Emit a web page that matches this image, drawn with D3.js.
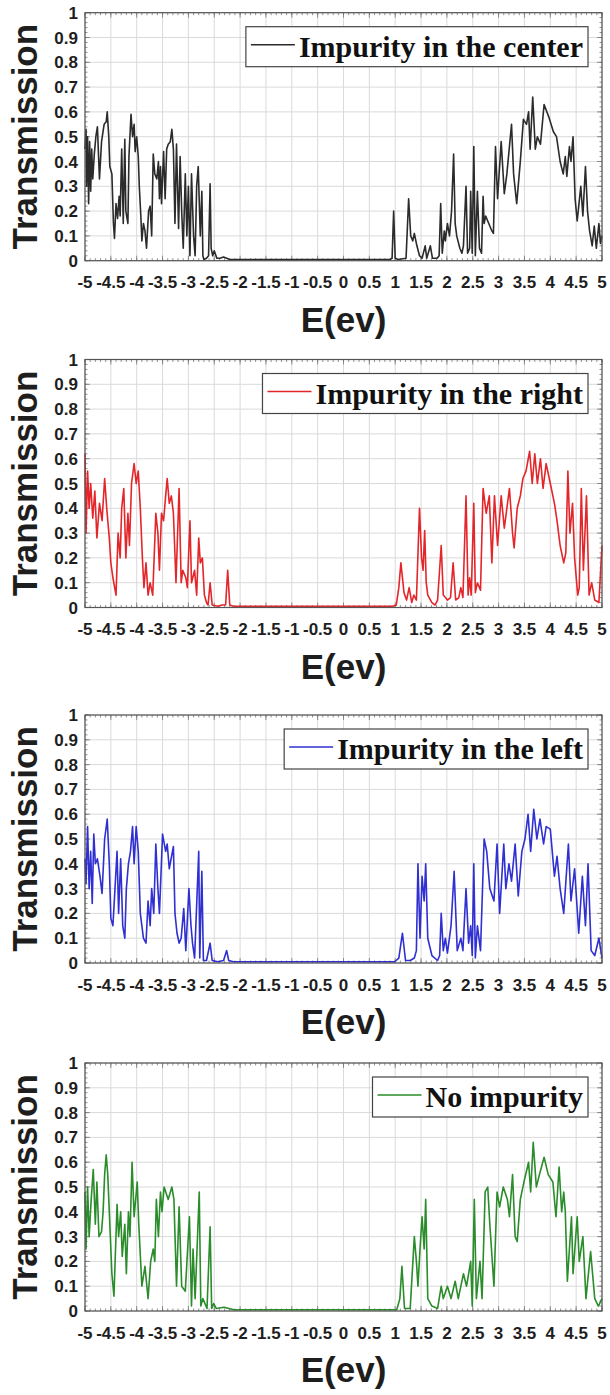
<!DOCTYPE html>
<html><head><meta charset="utf-8">
<script src="https://cdn.jsdelivr.net/npm/d3@7"></script>
<style>body{margin:0;background:#fff}svg{display:block}</style>
</head><body><svg id="c" width="610" height="1395"></svg>
<script>
// ---------- data ----------
const xTickValues = [-5,-4.5,-4,-3.5,-3,-2.5,-2,-1.5,-1,-0.5,0,0.5,1,1.5,2,2.5,3,3.5,4,4.5,5];
const xTickLabels = ["-5","-4.5","-4","-3.5","-3","-2.5","-2","-1.5","-1","-0.5","0","0.5","1","1.5","2","2.5","3","3.5","4","4.5","5"];
const yTickValues = [0,0.1,0.2,0.3,0.4,0.5,0.6,0.7,0.8,0.9,1];
const yTickLabels = ["0","0.1","0.2","0.3","0.4","0.5","0.6","0.7","0.8","0.9","1"];
const legendLabels = ["Impurity in the center","Impurity in the right","Impurity in the left","No impurity"];
const yAxisTitle = "Transmission";
const xAxisTitle = "E(ev)";

const energyCenter = [-5.00,-4.98,-4.97,-4.95,-4.93,-4.91,-4.89,-4.87,-4.85,-4.82,-4.79,-4.76,-4.72,-4.68,-4.63,-4.59,-4.57,-4.54,-4.52,-4.48,-4.45,-4.43,-4.40,-4.37,-4.34,-4.32,-4.29,-4.26,-4.23,-4.21,-4.17,-4.15,-4.11,-4.08,-4.05,-4.03,-4.00,-3.97,-3.95,-3.92,-3.90,-3.87,-3.84,-3.81,-3.77,-3.74,-3.71,-3.68,-3.65,-3.61,-3.58,-3.56,-3.54,-3.52,-3.48,-3.45,-3.42,-3.39,-3.35,-3.32,-3.29,-3.26,-3.23,-3.19,-3.16,-3.13,-3.10,-3.06,-3.03,-3.00,-2.97,-2.94,-2.90,-2.87,-2.84,-2.81,-2.77,-2.74,-2.72,-2.70,-2.65,-2.61,-2.58,-2.56,-2.53,-2.50,-2.45,-2.39,-2.32,-2.26,-2.20,0.90,0.94,0.97,1.00,1.06,1.21,1.26,1.30,1.34,1.37,1.42,1.47,1.52,1.58,1.61,1.68,1.72,1.81,1.85,1.88,1.91,1.95,1.97,2.01,2.05,2.09,2.13,2.16,2.19,2.25,2.29,2.32,2.37,2.40,2.44,2.46,2.49,2.52,2.55,2.59,2.63,2.67,2.70,2.72,2.75,2.81,2.87,2.90,2.94,2.98,3.05,3.11,3.16,3.25,3.29,3.35,3.42,3.48,3.54,3.58,3.61,3.66,3.71,3.75,3.81,3.88,3.97,4.06,4.12,4.19,4.25,4.29,4.32,4.37,4.40,4.44,4.48,4.52,4.55,4.59,4.63,4.68,4.72,4.76,4.81,4.85,4.89,4.94,4.97,5.00];
const transCenter = [0.45,0.53,0.30,0.50,0.23,0.48,0.28,0.45,0.33,0.43,0.50,0.54,0.33,0.48,0.55,0.56,0.60,0.50,0.38,0.35,0.15,0.09,0.23,0.17,0.26,0.18,0.45,0.15,0.49,0.20,0.15,0.42,0.59,0.50,0.55,0.44,0.50,0.42,0.30,0.18,0.08,0.15,0.12,0.05,0.20,0.22,0.10,0.43,0.35,0.33,0.40,0.25,0.38,0.23,0.44,0.25,0.45,0.47,0.48,0.53,0.45,0.15,0.47,0.13,0.42,0.20,0.05,0.35,0.10,0.30,0.02,0.35,0.10,0.02,0.30,0.38,0.10,0.28,0.02,0.005,0.01,0.02,0.31,0.05,0.02,0.04,0.01,0.01,0.015,0.01,0.005,0.005,0.01,0.20,0.01,0.005,0.01,0.25,0.10,0.08,0.11,0.06,0.02,0.01,0.06,0.01,0.06,0.01,0.01,0.02,0.23,0.03,0.12,0.08,0.15,0.10,0.20,0.43,0.15,0.10,0.05,0.03,0.06,0.30,0.03,0.05,0.28,0.03,0.46,0.02,0.28,0.05,0.03,0.26,0.15,0.18,0.15,0.12,0.11,0.46,0.25,0.48,0.27,0.35,0.55,0.35,0.23,0.40,0.57,0.55,0.60,0.45,0.66,0.45,0.50,0.47,0.63,0.58,0.52,0.50,0.40,0.35,0.42,0.34,0.46,0.40,0.50,0.25,0.16,0.22,0.30,0.18,0.38,0.20,0.12,0.06,0.14,0.05,0.15,0.07,0.10];

const energyRight = [-5.00,-4.98,-4.95,-4.92,-4.89,-4.85,-4.81,-4.77,-4.72,-4.67,-4.62,-4.58,-4.53,-4.50,-4.46,-4.40,-4.36,-4.32,-4.29,-4.25,-4.21,-4.17,-4.14,-4.10,-4.05,-4.01,-3.97,-3.93,-3.89,-3.86,-3.82,-3.78,-3.74,-3.69,-3.63,-3.59,-3.56,-3.52,-3.48,-3.44,-3.41,-3.37,-3.33,-3.29,-3.24,-3.18,-3.14,-3.11,-3.05,-3.02,-2.97,-2.94,-2.88,-2.84,-2.80,-2.77,-2.73,-2.69,-2.65,-2.62,-2.58,-2.54,-2.43,-2.35,-2.28,-2.24,-2.20,-2.13,0.95,1.02,1.07,1.11,1.17,1.22,1.27,1.32,1.36,1.41,1.47,1.51,1.54,1.57,1.60,1.63,1.71,1.77,1.82,1.89,1.93,2.01,2.07,2.12,2.17,2.23,2.27,2.31,2.37,2.41,2.44,2.47,2.52,2.55,2.59,2.65,2.70,2.76,2.82,2.87,2.92,2.98,3.05,3.11,3.16,3.21,3.27,3.30,3.36,3.42,3.47,3.53,3.60,3.65,3.70,3.75,3.81,3.86,3.92,4.00,4.08,4.13,4.19,4.26,4.30,4.34,4.38,4.43,4.47,4.53,4.56,4.60,4.64,4.70,4.75,4.80,4.86,4.94,5.00];
const transRight = [0.62,0.30,0.55,0.40,0.50,0.36,0.47,0.28,0.42,0.35,0.52,0.40,0.28,0.18,0.12,0.05,0.30,0.20,0.40,0.48,0.20,0.38,0.25,0.50,0.58,0.50,0.55,0.40,0.20,0.08,0.18,0.05,0.10,0.05,0.38,0.30,0.15,0.38,0.35,0.45,0.52,0.42,0.45,0.38,0.10,0.48,0.10,0.15,0.12,0.08,0.35,0.10,0.15,0.05,0.28,0.18,0.20,0.05,0.02,0.01,0.10,0.01,0.005,0.01,0.01,0.15,0.01,0.005,0.005,0.01,0.08,0.18,0.06,0.03,0.08,0.02,0.05,0.03,0.40,0.20,0.15,0.31,0.10,0.05,0.02,0.01,0.03,0.25,0.05,0.03,0.04,0.18,0.03,0.04,0.08,0.04,0.45,0.05,0.12,0.05,0.42,0.06,0.10,0.07,0.48,0.38,0.45,0.18,0.45,0.25,0.45,0.32,0.40,0.48,0.30,0.24,0.40,0.45,0.52,0.55,0.63,0.50,0.62,0.50,0.60,0.48,0.58,0.50,0.42,0.35,0.25,0.18,0.22,0.55,0.30,0.42,0.20,0.05,0.08,0.48,0.15,0.45,0.05,0.10,0.03,0.02,0.25];

const energyLeft = [-5.00,-4.98,-4.95,-4.92,-4.89,-4.86,-4.83,-4.80,-4.76,-4.71,-4.67,-4.62,-4.57,-4.53,-4.50,-4.46,-4.42,-4.38,-4.35,-4.31,-4.27,-4.23,-4.20,-4.16,-4.12,-4.08,-4.05,-4.01,-3.97,-3.93,-3.87,-3.82,-3.78,-3.74,-3.71,-3.67,-3.63,-3.59,-3.56,-3.50,-3.44,-3.41,-3.37,-3.29,-3.26,-3.22,-3.18,-3.14,-3.09,-3.05,-2.99,-2.95,-2.92,-2.88,-2.80,-2.78,-2.74,-2.71,-2.65,-2.58,-2.54,-2.43,-2.32,-2.26,-2.22,-2.13,0.99,1.07,1.14,1.20,1.29,1.37,1.41,1.44,1.48,1.52,1.56,1.59,1.63,1.71,1.82,1.86,1.89,1.93,1.97,2.01,2.08,2.14,2.20,2.27,2.31,2.37,2.42,2.46,2.49,2.52,2.55,2.59,2.65,2.72,2.77,2.83,2.91,2.97,3.02,3.10,3.14,3.20,3.25,3.32,3.38,3.45,3.51,3.57,3.62,3.68,3.74,3.80,3.87,3.92,4.00,4.08,4.13,4.19,4.26,4.35,4.40,4.47,4.55,4.62,4.68,4.73,4.79,4.86,4.94,5.00];
const transLeft = [0.42,0.32,0.55,0.30,0.45,0.24,0.52,0.40,0.42,0.35,0.28,0.50,0.58,0.40,0.18,0.15,0.30,0.45,0.20,0.42,0.15,0.10,0.30,0.40,0.45,0.55,0.40,0.55,0.45,0.20,0.10,0.08,0.25,0.15,0.30,0.20,0.48,0.30,0.20,0.52,0.45,0.48,0.38,0.47,0.20,0.12,0.08,0.10,0.22,0.05,0.30,0.15,0.08,0.02,0.45,0.02,0.37,0.01,0.01,0.08,0.01,0.005,0.01,0.05,0.01,0.005,0.005,0.02,0.12,0.01,0.01,0.02,0.05,0.40,0.10,0.35,0.25,0.40,0.10,0.03,0.01,0.03,0.20,0.05,0.10,0.04,0.15,0.37,0.05,0.10,0.05,0.30,0.08,0.15,0.03,0.40,0.02,0.15,0.05,0.50,0.45,0.30,0.25,0.48,0.20,0.48,0.30,0.40,0.33,0.48,0.27,0.45,0.50,0.60,0.45,0.62,0.50,0.58,0.48,0.55,0.54,0.35,0.43,0.30,0.20,0.48,0.25,0.38,0.12,0.35,0.15,0.40,0.05,0.03,0.10,0.02];

const energyNone = [-5.00,-4.98,-4.95,-4.92,-4.88,-4.84,-4.80,-4.77,-4.73,-4.68,-4.65,-4.62,-4.59,-4.56,-4.52,-4.48,-4.44,-4.38,-4.35,-4.31,-4.28,-4.23,-4.20,-4.16,-4.13,-4.09,-4.05,-3.99,-3.96,-3.90,-3.84,-3.78,-3.73,-3.68,-3.65,-3.62,-3.58,-3.54,-3.51,-3.47,-3.39,-3.32,-3.28,-3.23,-3.18,-3.13,-3.06,-2.98,-2.94,-2.91,-2.87,-2.79,-2.76,-2.72,-2.64,-2.58,-2.55,-2.51,-2.46,-2.31,-2.12,1.03,1.09,1.13,1.18,1.29,1.37,1.41,1.44,1.48,1.52,1.56,1.59,1.63,1.71,1.82,1.89,1.93,2.01,2.08,2.16,2.22,2.27,2.32,2.38,2.46,2.49,2.53,2.57,2.64,2.68,2.74,2.79,2.83,2.91,2.97,3.02,3.09,3.17,3.21,3.27,3.32,3.36,3.42,3.49,3.58,3.62,3.67,3.73,3.79,3.88,3.96,4.05,4.11,4.17,4.22,4.26,4.29,4.33,4.41,4.44,4.52,4.56,4.63,4.69,4.78,4.86,4.93,5.00];
const transNone = [0.48,0.25,0.50,0.30,0.45,0.57,0.35,0.52,0.30,0.32,0.40,0.55,0.63,0.55,0.35,0.15,0.06,0.43,0.30,0.40,0.22,0.35,0.15,0.40,0.30,0.60,0.38,0.52,0.35,0.10,0.18,0.05,0.20,0.25,0.20,0.45,0.30,0.48,0.40,0.50,0.45,0.50,0.45,0.10,0.42,0.10,0.08,0.38,0.02,0.25,0.05,0.48,0.02,0.05,0.01,0.34,0.01,0.03,0.01,0.015,0.005,0.005,0.05,0.18,0.01,0.01,0.30,0.20,0.10,0.25,0.38,0.25,0.45,0.05,0.02,0.01,0.10,0.05,0.10,0.05,0.12,0.05,0.10,0.15,0.10,0.20,0.02,0.45,0.05,0.20,0.05,0.48,0.50,0.35,0.10,0.48,0.42,0.50,0.45,0.38,0.55,0.30,0.28,0.45,0.52,0.60,0.48,0.68,0.50,0.55,0.62,0.55,0.52,0.38,0.58,0.40,0.48,0.40,0.12,0.38,0.15,0.38,0.20,0.30,0.05,0.24,0.05,0.02,0.05];

// ---------- styles / layout ----------
const seriesColors = ["#2b2b2b","#e4262b","#2f2fd2","#2a8c2a"];
const panelTops = [12.7, 359.5, 715, 1063];
const plotH = 248, plotL = 85, plotR = 602;

const series = [
  {e: energyCenter, t: transCenter},
  {e: energyRight, t: transRight},
  {e: energyLeft, t: transLeft},
  {e: energyNone, t: transNone}
];

const svg = d3.select("#c");
const x = d3.scaleLinear().domain([-5,5]).range([plotL, plotR]);
const minorX = d3.range(-50, 51).map(d => d/10);
const minorY = d3.range(0, 51).map(d => d/50);

series.forEach((s, i) => {
  const top = panelTops[i];
  const y = d3.scaleLinear().domain([0,1]).range([top + plotH, top]);
  const g = svg.append("g");

  // grid
  g.append("g").selectAll("line").data(xTickValues).join("line")
    .attr("x1", d => x(d)).attr("x2", d => x(d))
    .attr("y1", top).attr("y2", top + plotH)
    .attr("stroke", "#dadada").attr("stroke-width", 1);
  g.append("g").selectAll("line").data(yTickValues).join("line")
    .attr("x1", plotL).attr("x2", plotR)
    .attr("y1", d => y(d)).attr("y2", d => y(d))
    .attr("stroke", "#dadada").attr("stroke-width", 1);

  // minor ticks
  const mt = g.append("g").attr("stroke", "#777").attr("stroke-width", 0.8);
  minorX.forEach(v => {
    mt.append("line").attr("x1", x(v)).attr("x2", x(v)).attr("y1", top + plotH).attr("y2", top + plotH - 2.5);
    mt.append("line").attr("x1", x(v)).attr("x2", x(v)).attr("y1", top).attr("y2", top + 2.5);
  });
  minorY.forEach(v => {
    mt.append("line").attr("x1", plotL).attr("x2", plotL + 2.5).attr("y1", y(v)).attr("y2", y(v));
    mt.append("line").attr("x1", plotR).attr("x2", plotR - 2.5).attr("y1", y(v)).attr("y2", y(v));
  });
  // major ticks
  xTickValues.forEach(v => {
    mt.append("line").attr("x1", x(v)).attr("x2", x(v)).attr("y1", top + plotH).attr("y2", top + plotH - 5);
    mt.append("line").attr("x1", x(v)).attr("x2", x(v)).attr("y1", top).attr("y2", top + 5);
  });
  yTickValues.forEach(v => {
    mt.append("line").attr("x1", plotL).attr("x2", plotL + 5).attr("y1", y(v)).attr("y2", y(v));
    mt.append("line").attr("x1", plotR).attr("x2", plotR - 5).attr("y1", y(v)).attr("y2", y(v));
  });

  // data line
  const line = d3.line().x((d, k) => x(s.e[k])).y((d, k) => y(s.t[k]));
  g.append("path").datum(s.t).attr("d", line)
    .attr("fill", "none").attr("stroke", seriesColors[i])
    .attr("stroke-width", 1.6).attr("stroke-linejoin", "round");

  // frame
  g.append("rect").attr("x", plotL).attr("y", top).attr("width", plotR - plotL).attr("height", plotH)
    .attr("fill", "none").attr("stroke", "#555").attr("stroke-width", 1.2);

  // tick labels
  g.append("g").selectAll("text").data(xTickValues).join("text")
    .attr("x", d => x(d)).attr("y", top + plotH + 27.5)
    .attr("text-anchor", "middle")
    .attr("font-family", "'Liberation Sans', Arial, sans-serif")
    .attr("font-weight", "bold").attr("font-size", 17).attr("fill", "#1e1e1e")
    .text((d, k) => xTickLabels[k]);
  g.append("g").selectAll("text").data(yTickValues).join("text")
    .attr("x", 78).attr("y", d => y(d) + 6)
    .attr("text-anchor", "end")
    .attr("font-family", "'Liberation Sans', Arial, sans-serif")
    .attr("font-weight", "bold").attr("font-size", 17).attr("fill", "#1e1e1e")
    .text((d, k) => yTickLabels[k]);

  // axis titles
  g.append("text").attr("transform", `translate(37,${top + plotH/2}) rotate(-90)`)
    .attr("text-anchor", "middle")
    .attr("font-family", "'Liberation Sans', Arial, sans-serif")
    .attr("font-weight", "bold").attr("font-size", 35).attr("fill", "#1e1e1e")
    .text(yAxisTitle);
  g.append("text").attr("x", (plotL + plotR)/2).attr("y", top + plotH + 71)
    .attr("text-anchor", "middle")
    .attr("font-family", "'Liberation Sans', Arial, sans-serif")
    .attr("font-weight", "bold").attr("font-size", 35).attr("fill", "#1e1e1e")
    .text(xAxisTitle);

  // legend
  const lg = g.append("g");
  const txt = lg.append("text").attr("y", top + 14 + 30)
    .attr("font-family", "'Liberation Serif', 'Times New Roman', serif")
    .attr("font-weight", "bold").attr("font-size", 30).attr("fill", "#111")
    .text(legendLabels[i]);
  const tw = txt.node().getComputedTextLength();
  const boxR = 588, boxTop = top + 14, boxH = 40;
  const textX = boxR - 5 - tw;
  txt.attr("x", textX);
  const lineX1 = textX - 48, lineX2 = textX - 4;
  lg.insert("rect", "text").attr("x", lineX1 - 5).attr("y", boxTop)
    .attr("width", boxR - (lineX1 - 5)).attr("height", boxH)
    .attr("fill", "#fff").attr("stroke", "#444").attr("stroke-width", 1.2);
  lg.append("line").attr("x1", lineX1).attr("x2", lineX2)
    .attr("y1", boxTop + boxH/2 - 2).attr("y2", boxTop + boxH/2 - 2)
    .attr("stroke", seriesColors[i]).attr("stroke-width", 1.4);
});
</script>
</body></html>
